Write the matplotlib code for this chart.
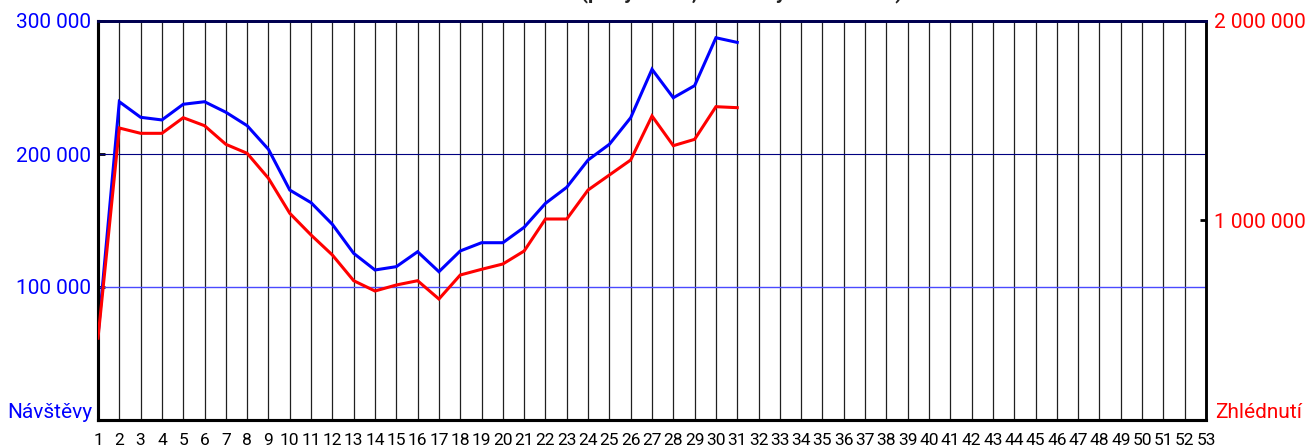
import matplotlib
matplotlib.use("Agg")
import matplotlib.pyplot as plt

# Weekly traffic: visits (left axis) and page views (right axis)
weeks = list(range(1, 54))
visit_weeks = list(range(1, 32))
visits = [63900, 239300, 227600, 225600, 237400, 239300, 231400, 221300, 203500,
          172900, 163400, 147100, 125300, 112800, 115300, 126500, 111500, 127100,
          133300, 133300, 144900, 162900, 175000, 195500, 207300, 227300, 263700,
          242300, 251400, 287400, 283900]
views = [410000, 1463600, 1437000, 1437000, 1515300, 1475200, 1381900, 1336800,
         1211500, 1036100, 927300, 827000, 698200, 646600, 676700, 698200, 606500,
         726800, 755300, 782000, 847100, 1007500, 1007500, 1152900, 1228100,
         1303300, 1523800, 1375100, 1406800, 1570500, 1565500]
left_ticks = [100000, 200000, 300000]
right_ticks = [1000000, 2000000]

plt.rcParams["font.family"] = ["Roboto", "DejaVu Sans"]

fig = plt.figure(figsize=(13.11, 4.48), dpi=100)
ax = fig.add_axes([98 / 1311, 28 / 448, (1206 - 98) / 1311, (420 - 21) / 448])
ax2 = ax.twinx()


def spaced(v):
    return f"{v:,}".replace(",", " ")


ax.set_xlim(1, 53)
ax.set_ylim(0, 300000)
ax2.set_ylim(0, 2000000)

ax.set_xticks(weeks)
ax.set_xticklabels([str(w) for w in weeks], fontsize=12.5)
ax.tick_params(axis="x", length=0, pad=9, colors="black")
ax.grid(axis="x", color="#202020", lw=0.9)
ax.set_axisbelow(True)

ax.axhline(200000, color="#000080", lw=0.8, zorder=1)
ax.axhline(100000, color="#4a4aff", lw=1.0, zorder=1)

ax.set_yticks(left_ticks)
ax.set_yticklabels([spaced(v) for v in left_ticks], fontsize=15, color="#0000ff")
ax.tick_params(axis="y", direction="in", length=5, width=2, pad=5, colors="black",
               labelcolor="#0000ff")

ax2.set_yticks(right_ticks)
ax2.set_yticklabels([spaced(v) for v in right_ticks], fontsize=15, color="#ff0000")
ax2.tick_params(axis="y", direction="in", length=4, width=2, pad=6, colors="black",
                labelcolor="#ff0000")

for a in (ax, ax2):
    a.spines["left"].set_linewidth(2.2)
    a.spines["bottom"].set_linewidth(2.2)
    a.spines["right"].set_linewidth(1.8)
    a.spines["top"].set_linewidth(2.0)
    a.spines["top"].set_color("#000050")

ax.plot(visit_weeks, visits, color="#0000ff", lw=2.2, solid_joinstyle="miter", zorder=3)
ax2.plot(visit_weeks, views, color="#ff0000", lw=2.2, solid_joinstyle="miter", zorder=3)

fig.text(92 / 1311, 1 - 412 / 448, "Návštěvy", color="#0000ff", fontsize=15,
         ha="right", va="center")
fig.text(1215 / 1311, 1 - 412 / 448, "Zhlédnutí", color="#ff0000", fontsize=15,
         ha="left", va="center")

fig.text(652 / 1311, 1 + 2 / 448, "Návštěvnost webu (po týdnech, návštěvy a zhlédnutí)",
         fontsize=15, fontweight="bold", ha="center", va="baseline", color="#222222")

fig.savefig("out.png", dpi=100)
